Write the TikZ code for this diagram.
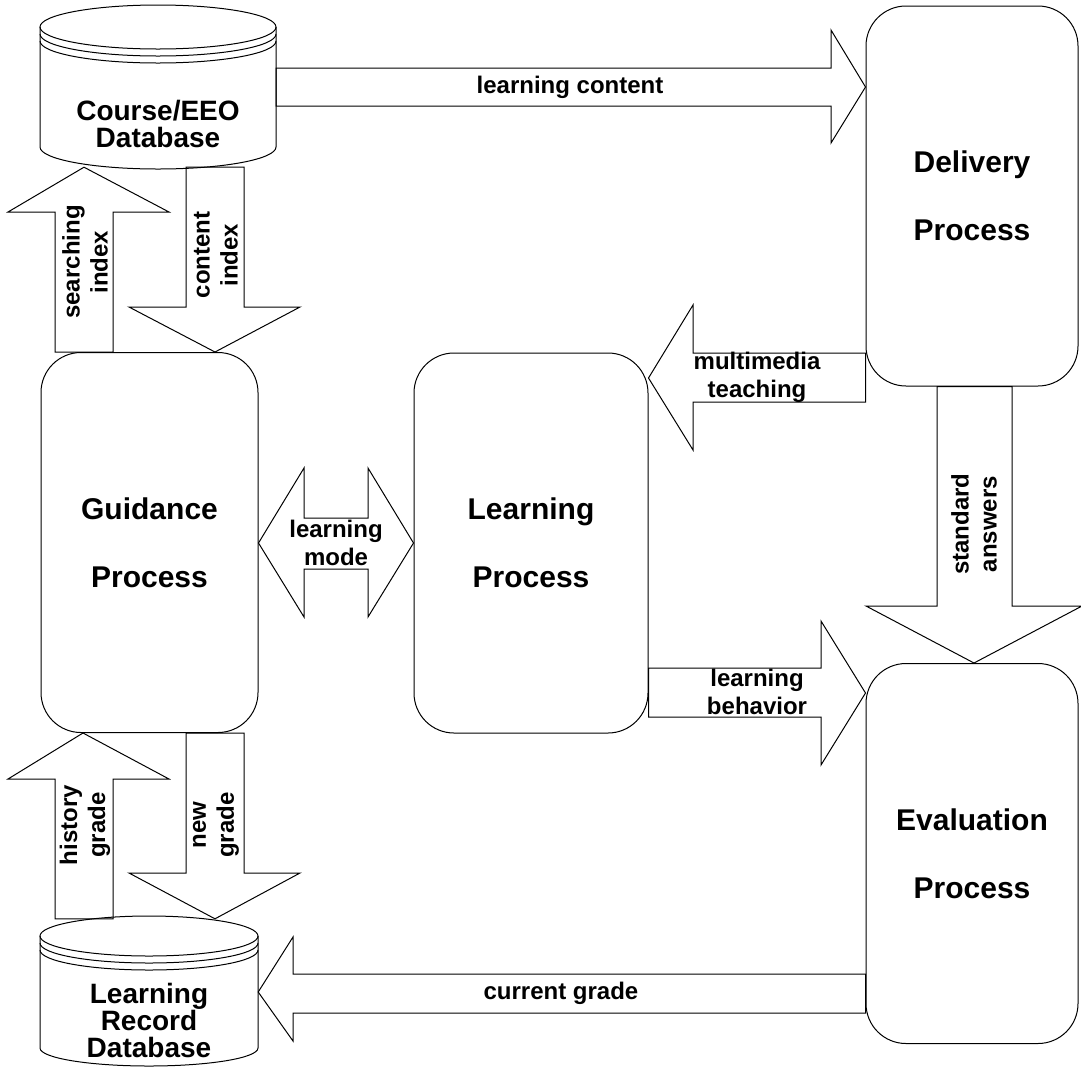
\documentclass[tikz,border=0pt]{standalone}
\usepackage{fontspec}
\setmainfont{Liberation Sans}
\begin{document}
\begin{tikzpicture}[x=1pt, y=-1pt,
  procbox/.style={draw, line width=1pt, rounded corners=40pt, minimum height=380pt, align=center, font=\fontsize{30}{68}\selectfont\bfseries},
  dbtext/.style={align=center, font=\fontsize{28}{27}\selectfont\bfseries},
  dbline/.style={line width=1pt},
  blockarrow/.style={draw, line width=1pt, line join=miter},
  flowlabel/.style={align=center, font=\fontsize{24}{28}\selectfont\bfseries}]
\useasboundingbox (0,0) rectangle (1081,1069);

% Databases
\draw[dbline] (158,27) ellipse[x radius=118, y radius=22];
\draw[dbline] (40,34) arc[start angle=180, end angle=0, x radius=118, y radius=22];
\draw[dbline] (40,41) arc[start angle=180, end angle=0, x radius=118, y radius=22];
\draw[dbline] (40,27) -- (40,147) arc[start angle=180, end angle=0, x radius=118, y radius=22] -- (276,27);
\node[dbtext, minimum width=236pt, minimum height=86pt] (course) at (158,124) {Course/EEO\\Database};

\draw[dbline] (149,936) ellipse[x radius=109, y radius=20];
\draw[dbline] (40,943) arc[start angle=180, end angle=0, x radius=109, y radius=20];
\draw[dbline] (40,950) arc[start angle=180, end angle=0, x radius=109, y radius=20];
\draw[dbline] (40,936) -- (40,1048) arc[start angle=180, end angle=0, x radius=109, y radius=18] -- (258,936);
\node[dbtext, minimum width=218pt, minimum height=202pt] (record) at (149,1020) {Learning\\Record\\Database};

% Processes
\node[procbox, minimum width=212pt] (delivery) at (972,196) {Delivery\\Process};
\node[procbox, minimum width=217pt] (guidance) at (149.5,542.5) {Guidance\\Process};
\node[procbox, minimum width=234pt] (learning) at (531,543) {Learning\\Process};
\node[procbox, minimum width=212pt] (evaluation) at (972,853.5) {Evaluation\\Process};

% Block arrows
\draw[blockarrow] (course.east |- 0,68) -- (831,68) -- (831,30) -- (delivery.west |- 0,87) -- (831,143) -- (831,106) -- (course.east |- 0,106) -- cycle;
\node[flowlabel] (contentlbl) at (570,87) {learning content};

\draw[blockarrow] (55,0 |- guidance.north) -- (55,212) -- (8,212) -- (84,0 |- course.south) -- (169,212) -- (113,212) -- (113,0 |- guidance.north) -- cycle;
\node[flowlabel, rotate=90] (searchlbl) at (85,262) {searching\\index};

\draw[blockarrow] (186,0 |- course.south) -- (186,307) -- (129,307) -- (215,0 |- guidance.north) -- (300,307) -- (244,307) -- (244,0 |- course.south) -- cycle;
\node[flowlabel, rotate=90] (indexlbl) at (216,255) {content\\index};

\draw[blockarrow] (guidance.east |- 0,543) -- (304,468) -- (304,518) -- (368,518) -- (368,468) -- (learning.west |- 0,543) -- (368,617) -- (368,569) -- (304,569) -- (304,617) -- cycle;
\node[flowlabel] (modelbl) at (336,543) {learning\\mode};

\draw[blockarrow] (delivery.west |- 0,353) -- (693,353) -- (693,305) -- (learning.east |- 0,378) -- (693,450) -- (693,402) -- (delivery.west |- 0,402) -- cycle;
\node[flowlabel] (teachlbl) at (757,377) {multimedia\\teaching};

\draw[blockarrow] (937,0 |- delivery.south) -- (937,606) -- (866,606) -- (974,0 |- evaluation.north) -- (1082,606) -- (1012,606) -- (1012,0 |- delivery.south) -- cycle;
\node[flowlabel, rotate=90] (answerlbl) at (974,524) {standard\\answers};

\draw[blockarrow] (learning.east |- 0,668) -- (821,668) -- (821,621) -- (evaluation.west |- 0,693) -- (821,765) -- (821,717) -- (learning.east |- 0,717) -- cycle;
\node[flowlabel] (behavlbl) at (757,692) {learning\\behavior};

\draw[blockarrow] (55,0 |- record.north) -- (55,779) -- (8,779) -- (83,0 |- guidance.south) -- (169,779) -- (113,779) -- (113,0 |- record.north) -- cycle;
\node[flowlabel, rotate=90] (historylbl) at (85,825) {history\\grade};

\draw[blockarrow] (186,0 |- guidance.south) -- (186,873) -- (129,873) -- (215,0 |- record.north) -- (300,873) -- (244,873) -- (244,0 |- guidance.south) -- cycle;
\node[flowlabel, rotate=90] (newlbl) at (216,825) {new\\grade};

\draw[blockarrow] (evaluation.west |- 0,974) -- (293,974) -- (293,937) -- (record.east |- 0,992) -- (293,1041) -- (293,1013) -- (evaluation.west |- 0,1013) -- cycle;
\node[flowlabel] (gradelbl) at (561,993) {current grade};
\end{tikzpicture}
\end{document}
